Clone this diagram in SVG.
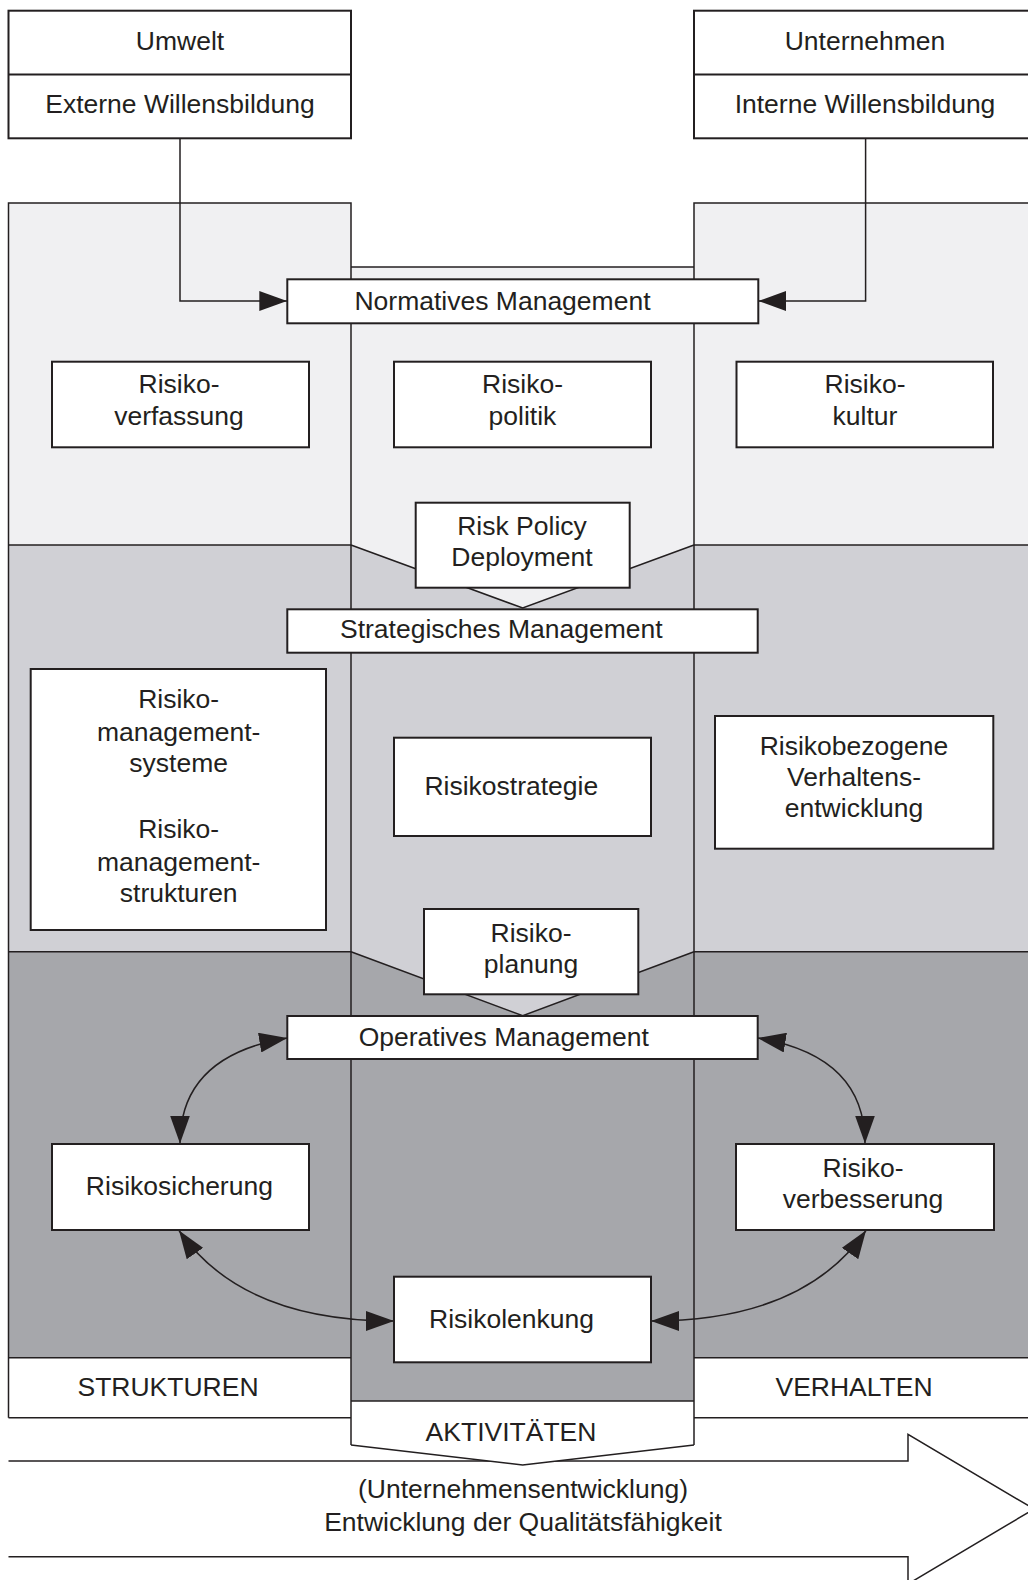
<svg xmlns="http://www.w3.org/2000/svg" width="1028" height="1580" viewBox="0 0 1028 1580">
  <defs>
    <marker id="arrow" viewBox="0 0 28 20" markerWidth="28" markerHeight="20" refX="28" refY="10" orient="auto-start-reverse" markerUnits="userSpaceOnUse">
      <path d="M0,0 L28,10 L0,20 z" fill="#231f20"/>
    </marker>
    <style>
      text { font-family: "Liberation Sans", Arial, Helvetica, sans-serif; font-size: 26.5px; fill: #231f20; text-anchor: middle; }
      .box { fill: #ffffff; stroke: #231f20; stroke-width: 2; }
      .edge { fill: none; stroke: #231f20; stroke-width: 1.5; }
      .lvl1 { fill: #f0f0f2; }
      .lvl2 { fill: #d0d0d5; }
      .lvl3 { fill: #a6a7ab; }
      .white { fill: #ffffff; }
      .conn { fill: none; stroke: #231f20; stroke-width: 1.5; }
    </style>
  </defs>

  <rect x="0" y="0" width="1028" height="1580" fill="#ffffff"/>

  <!-- Development arrow along the bottom -->
  <path class="edge" d="M8.5,1461 H908 V1434.3 L1034,1509 L908,1584 V1556.7 H8.5"/>
  <text x="523" y="1498">(Unternehmensentwicklung)</text>
  <text x="523" y="1531">Entwicklung der Qualitätsfähigkeit</text>

  <!-- Management levels: normative (light), strategic (medium), operative (dark) -->
  <g id="levels">
    <rect class="lvl1" x="8.5" y="203" width="342.5" height="342"/>
    <rect class="lvl1" x="694" y="203" width="342" height="342"/>
    <polygon class="lvl1" points="351,267 694,267 694,545 522.7,608 351,545"/>

    <rect class="lvl2" x="8.5" y="545" width="342.5" height="406.7"/>
    <rect class="lvl2" x="694" y="545" width="342" height="406.7"/>
    <polygon class="lvl2" points="351,545 522.7,608 694,545 694,951.7 522.7,1015.7 351,951.7"/>

    <rect class="lvl3" x="8.5" y="951.7" width="342.5" height="406"/>
    <rect class="lvl3" x="694" y="951.7" width="342" height="406"/>
    <polygon class="lvl3" points="351,951.7 522.7,1015.7 694,951.7 694,1401 351,1401"/>

    <rect class="white" x="8.5" y="1357.7" width="342.5" height="60"/>
    <rect class="white" x="694" y="1357.7" width="342" height="60"/>
    <polygon class="white" points="351,1401 694,1401 694,1445 522.7,1465 351,1445"/>

    <!-- column outlines and level borders -->
    <path class="edge" d="M8.5,1417.7 V203 H351 V1445"/>
    <path class="edge" d="M1036,1417.7 V203 H694 V1445"/>
    <path class="edge" d="M351,267 H694"/>
    <path class="edge" d="M8.5,545 H351 M694,545 H1036"/>
    <path class="edge" d="M8.5,951.7 H351 M694,951.7 H1036"/>
    <path class="edge" d="M8.5,1357.7 H351 M694,1357.7 H1036"/>
    <path class="edge" d="M8.5,1417.7 H351 M694,1417.7 H1036"/>
    <path class="edge" d="M351,545 L522.7,608 L694,545"/>
    <path class="edge" d="M351,951.7 L522.7,1015.7 L694,951.7"/>
    <path class="edge" d="M351,1401 H694"/>
    <path class="edge" d="M351,1445 L522.7,1465 L694,1445"/>

    <text x="168" y="1396">STRUKTUREN</text>
    <text x="854" y="1396">VERHALTEN</text>
    <text x="511" y="1441">AKTIVITÄTEN</text>
  </g>

  <!-- Connectors -->
  <g id="connectors">
    <path class="conn" d="M180,138.3 V301 H287.3" marker-end="url(#arrow)"/>
    <path class="conn" d="M865.6,138.3 V301 H758.3" marker-end="url(#arrow)"/>
    <path class="conn" d="M287.3,1038 C215,1050 180,1085 180,1143.5" marker-start="url(#arrow)" marker-end="url(#arrow)"/>
    <path class="conn" d="M757.7,1038 C830,1050 865,1085 865,1143.5" marker-start="url(#arrow)" marker-end="url(#arrow)"/>
    <path class="conn" d="M179,1230.5 C205,1268 260,1321 394,1321" marker-start="url(#arrow)" marker-end="url(#arrow)"/>
    <path class="conn" d="M866,1230.5 C840,1268 785,1321 651,1321" marker-start="url(#arrow)" marker-end="url(#arrow)"/>
  </g>

  <!-- Nodes -->
  <g id="umwelt">
    <rect class="box" x="8.5" y="10.7" width="342.5" height="127.6"/>
    <path class="box" d="M8.5,74.5 H351"/>
    <text x="180" y="50">Umwelt</text>
    <text x="180" y="113">Externe Willensbildung</text>
  </g>
  <g id="unternehmen">
    <rect class="box" x="694" y="10.7" width="342" height="127.6"/>
    <path class="box" d="M694,74.5 H1036"/>
    <text x="865" y="50">Unternehmen</text>
    <text x="865" y="113">Interne Willensbildung</text>
  </g>

  <g id="normatives-management">
    <rect class="box" x="287.3" y="279.3" width="471" height="44"/>
    <text x="502.5" y="310">Normatives Management</text>
  </g>
  <g id="risikoverfassung">
    <rect class="box" x="52" y="361.7" width="257" height="85.6"/>
    <text x="179" y="393">Risiko-</text>
    <text x="179" y="425">verfassung</text>
  </g>
  <g id="risikopolitik">
    <rect class="box" x="394" y="361.7" width="257" height="85.6"/>
    <text x="522.5" y="393">Risiko-</text>
    <text x="522.5" y="425">politik</text>
  </g>
  <g id="risikokultur">
    <rect class="box" x="736.5" y="361.7" width="256.5" height="85.6"/>
    <text x="865" y="393">Risiko-</text>
    <text x="865" y="425">kultur</text>
  </g>
  <g id="risk-policy-deployment">
    <rect class="box" x="415.7" y="502.7" width="214" height="85"/>
    <text x="522" y="535">Risk Policy</text>
    <text x="522" y="566">Deployment</text>
  </g>

  <g id="strategisches-management">
    <rect class="box" x="287.3" y="609.3" width="470.4" height="43.4"/>
    <text x="501.3" y="638.3">Strategisches Management</text>
  </g>
  <g id="risikomanagement">
    <rect class="box" x="30.7" y="669" width="295.3" height="261"/>
    <text x="178.7" y="708.3">Risiko-</text>
    <text x="178.7" y="741">management-</text>
    <text x="178.7" y="772">systeme</text>
    <text x="178.7" y="838">Risiko-</text>
    <text x="178.7" y="871">management-</text>
    <text x="178.7" y="902">strukturen</text>
  </g>
  <g id="risikostrategie">
    <rect class="box" x="394" y="737.7" width="257" height="98.3"/>
    <text x="511.3" y="795">Risikostrategie</text>
  </g>
  <g id="verhaltensentwicklung">
    <rect class="box" x="715" y="716" width="278.3" height="132.7"/>
    <text x="854" y="755">Risikobezogene</text>
    <text x="854" y="786">Verhaltens-</text>
    <text x="854" y="817">entwicklung</text>
  </g>
  <g id="risikoplanung">
    <rect class="box" x="424" y="909" width="214.3" height="85.3"/>
    <text x="531" y="941.7">Risiko-</text>
    <text x="531" y="973">planung</text>
  </g>

  <g id="operatives-management">
    <rect class="box" x="287.3" y="1016" width="470.4" height="43"/>
    <text x="503.8" y="1045.7">Operatives Management</text>
  </g>
  <g id="risikosicherung">
    <rect class="box" x="52" y="1144" width="257" height="86"/>
    <text x="179.4" y="1194.5">Risikosicherung</text>
  </g>
  <g id="risikoverbesserung">
    <rect class="box" x="736" y="1144" width="258" height="86"/>
    <text x="863" y="1177">Risiko-</text>
    <text x="863" y="1208.3">verbesserung</text>
  </g>
  <g id="risikolenkung">
    <rect class="box" x="394" y="1276.7" width="257" height="85.6"/>
    <text x="511.5" y="1328.3">Risikolenkung</text>
  </g>
</svg>
